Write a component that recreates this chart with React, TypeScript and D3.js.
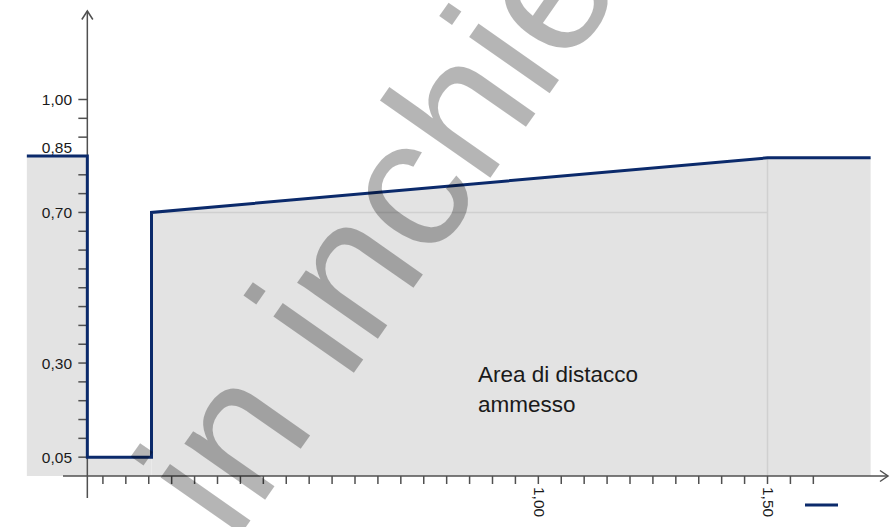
import * as d3 from 'd3'

// boundary of the admitted detachment area (x in m, y as ratio)
const boundaryX = [-0.116, 0.016, 0.016, 0.156, 0.156, 1.5, 1.725]
const boundaryY = [0.85, 0.85, 0.05, 0.05, 0.70, 0.845, 0.845]

const yLabelValues = [1.0, 0.85, 0.70, 0.30, 0.05]
const yTickLabels = ['1,00', '0,85', '0,70', '0,30', '0,05']
const xLabelValues = [1.0, 1.5]
const xTickLabels = ['1,00', '1,50']

const areaLabel = ['Area di distacco', 'ammesso']
const watermark = 'in inchiesta'

const yAxisAt = 0.016
const navy = '#0b2a6b'
const axisColor = '#505050'
const font = '"Liberation Sans", Arial, sans-serif'

export default function App() {
    const width = 891
    const height = 527

    const x = d3.scaleLinear().domain([0, 1.5]).range([80, 767.5])
    const y = d3.scaleLinear().domain([0, 1]).range([476, 99.5])

    const points: [number, number][] = boundaryX.map((v, i) => [v, boundaryY[i]])

    const area = d3.area<[number, number]>()
        .x(d => x(d[0]))
        .y0(y(0))
        .y1(d => y(d[1]))
    const line = d3.line<[number, number]>()
        .x(d => x(d[0]))
        .y(d => y(d[1]))

    const yMinor = d3.range(1, 21).map(i => i * 0.05)
    const xMinor = d3.range(1, 33).map(i => i * 0.05)

    const ax = x(yAxisAt)
    const ay = y(0)
    const refX = boundaryX[5]
    const refY = boundaryY[4]

    return (
        <svg width={width} height={height} style={{ position: 'absolute', left: 0, top: 0 }}>
            <rect width={width} height={height} fill="#fff" />

            {/* admitted area */}
            <path d={area(points.slice(0, 3).concat([[boundaryX[2], 0]]))!} fill="#e3e3e3" />
            <path d={area(points.slice(3))!} fill="#e3e3e3" />
            <path d={area([[boundaryX[2], boundaryY[2]], [boundaryX[3], boundaryY[3]]])!} fill="#e3e3e3" />

            {/* reference lines */}
            <line x1={x(boundaryX[4])} x2={x(refX)} y1={y(refY)} y2={y(refY)} stroke="#d0d0d0" strokeWidth={1.5} />
            <line x1={x(refX)} x2={x(refX)} y1={y(0)} y2={y(boundaryY[5])} stroke="#d0d0d0" strokeWidth={1.5} />

            {/* axes */}
            <g stroke={axisColor} strokeWidth={1.5} fill="none">
                <line x1={ax} x2={ax} y1={11} y2={498} />
                <polyline points={`${ax - 5.5},${19.5} ${ax},${11} ${ax + 5.5},${19.5}`} />
                <line x1={63} x2={888} y1={ay} y2={ay} />
                <polyline points={`${880},${ay - 5.5} ${888},${ay} ${880},${ay + 5.5}`} />
                {yMinor.map(v => (
                    <line key={'y' + v} x1={ax - 9} x2={ax} y1={y(v)} y2={y(v)} />
                ))}
                {xMinor.map(v => (
                    <line key={'x' + v} x1={x(v)} x2={x(v)} y1={ay} y2={ay + 8} />
                ))}
            </g>

            {/* tick labels */}
            <g fontFamily={font} fontSize={15.5} fill="#1a1a1a">
                {yLabelValues.map((v, i) => (
                    <text key={v} x={72} y={y(v) + (v === boundaryY[0] ? -8 : 0)} textAnchor="end" dominantBaseline="central">
                        {yTickLabels[i]}
                    </text>
                ))}
                {xLabelValues.map((v, i) => (
                    <text key={v} transform={`translate(${x(v) + 1},${487}) rotate(90)`} dominantBaseline="central">
                        {xTickLabels[i]}
                    </text>
                ))}
            </g>

            {/* boundary */}
            <path d={line(points)!} fill="none" stroke={navy} strokeWidth={3} strokeLinejoin="miter" />

            <g fontFamily={font} fontSize={22.5} fill="#1a1a1a">
                {areaLabel.map((t, i) => (
                    <text key={t} x={478} y={382 + i * 30}>{t}</text>
                ))}
            </g>

            {/* legend swatch */}
            <line x1={805} x2={838} y1={505} y2={505} stroke={navy} strokeWidth={3} />

            {/* watermark */}
            <text transform="translate(234,544) rotate(-55)" fontFamily={font} fontSize={186} fill="#000" fillOpacity={0.29}>
                {watermark}
            </text>
        </svg>
    )
}
